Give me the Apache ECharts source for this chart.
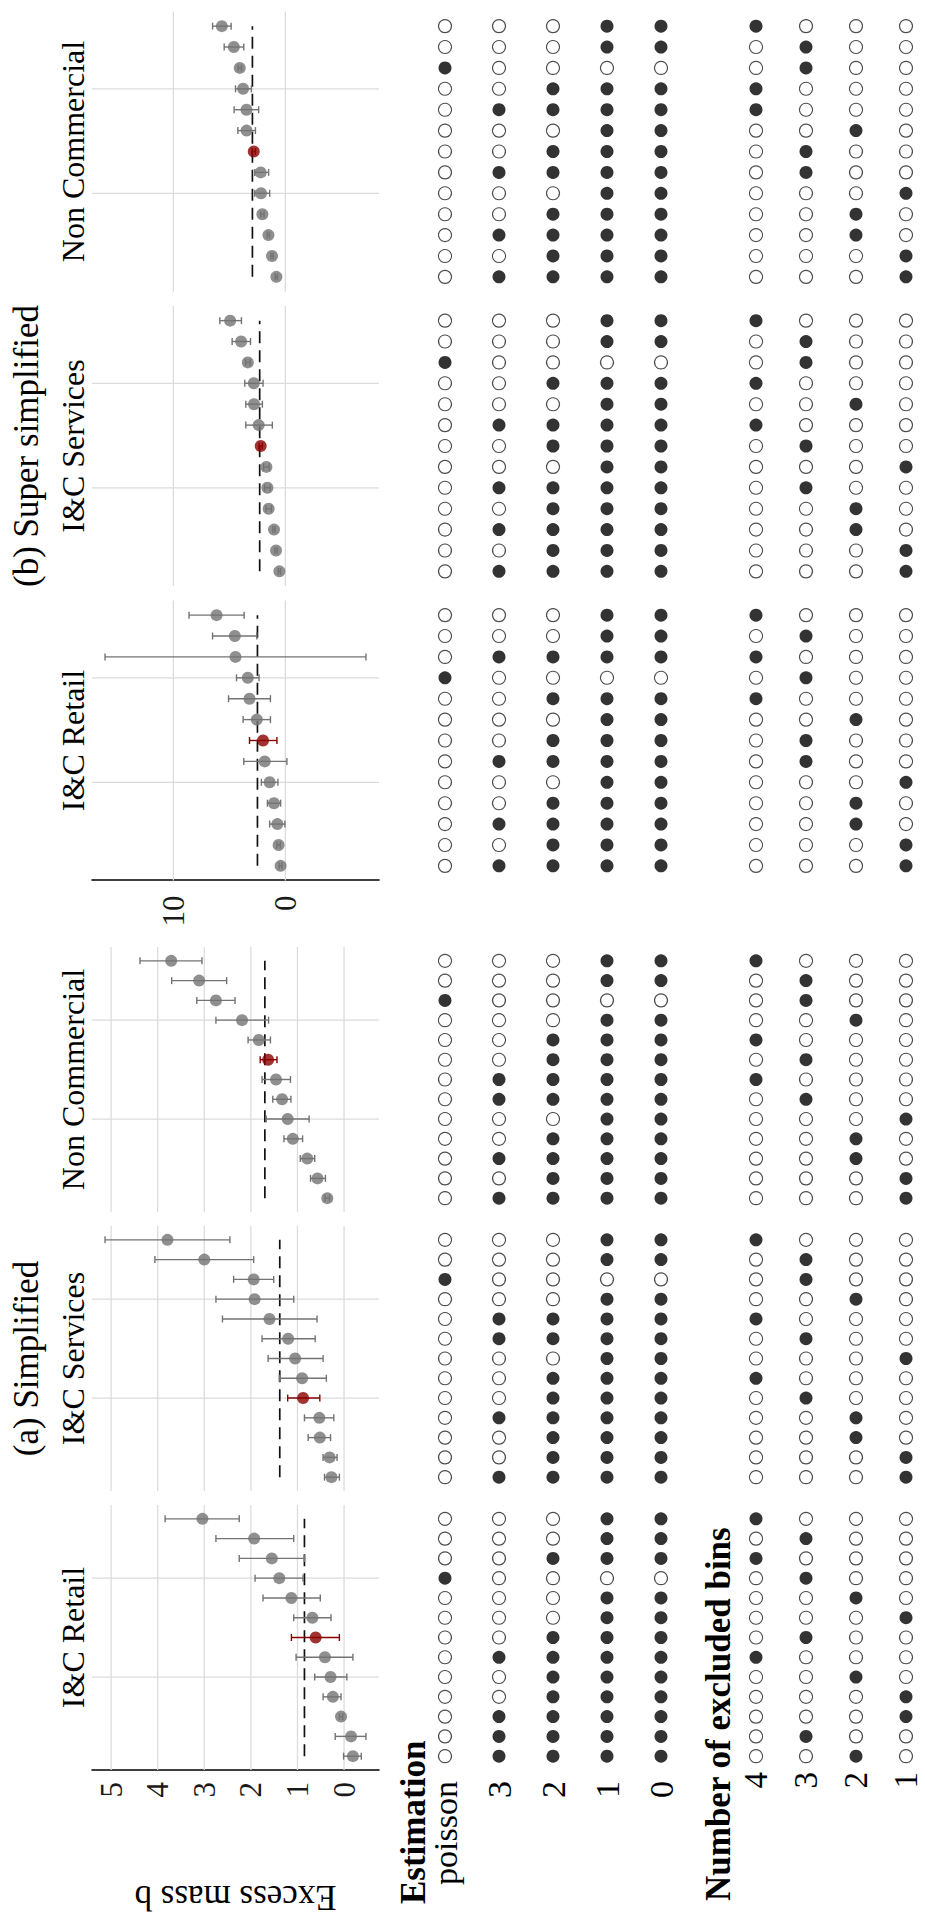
<!DOCTYPE html>
<html>
<head>
<meta charset="utf-8">
<script src="https://cdn.jsdelivr.net/npm/echarts@6/dist/echarts.min.js"></script>
<style>
  html, body { margin: 0; padding: 0; background: #fff; overflow: hidden; width: 925px; height: 1919px; }
  /* the figure is laid out in landscape and turned a quarter to fit the page */
  #chart { position: absolute; left: 0; top: 0; width: 1919px; height: 950px;
           transform-origin: 0 0; transform: translateY(1919px) rotate(-90deg); }
</style>
</head>
<body>
<div id="chart"></div>
<script>
// ---------- data ----------
const GROUP_TITLES = ['(a) Simplified', '(b) Super simplified'];
const SECTORS = ['I&C Retail', 'I&C Services', 'Non Commercial'];
const SPEC_RANK = [1, 2, 3, 4, 5, 6, 7, 8, 9, 10, 11, 12, 13];
const EST_ROWS = ['poisson', '3', '2', '1', '0'];
const BIN_ROWS = ['4', '3', '2', '1'];
const TICKS_SIMPLIFIED = [0, 1, 2, 3, 4, 5];
const TICKS_SUPER = [0, 10];
const GRID_RANKS = [5, 10];

// (a) Simplified — I&C Retail
const simpRetail     = [-0.19, -0.15, 0.065, 0.24, 0.29, 0.41, 0.61, 0.68, 1.13, 1.39, 1.55, 1.93, 3.04];
const simpRetailLo   = [-0.37, -0.47, 0.03, 0.065, -0.06, -0.19, 0.10, 0.28, 0.51, 0.88, 0.85, 1.08, 2.25];
const simpRetailHi   = [0.01, 0.19, 0.10, 0.45, 0.63, 1.03, 1.13, 1.08, 1.74, 1.91, 2.25, 2.75, 3.84];
const simpRetailEst  = ['3', '3', '3', '2', '2', '3', '2', '1', '1', 'poisson', '2', '1', '1'];
const simpRetailBins = [2, 3, 1, 1, 2, 4, 3, 1, 2, 3, 4, 3, 4];
// (a) Simplified — I&C Services
const simpServ     = [0.27, 0.31, 0.52, 0.53, 0.88, 0.90, 1.05, 1.20, 1.60, 1.92, 1.94, 3.00, 3.79];
const simpServLo   = [0.10, 0.15, 0.29, 0.22, 0.52, 0.38, 0.45, 0.62, 0.58, 1.08, 1.51, 1.94, 2.45];
const simpServHi   = [0.42, 0.45, 0.77, 0.85, 1.21, 1.39, 1.63, 1.76, 2.61, 2.75, 2.37, 4.06, 5.13];
const simpServEst  = ['3', '2', '2', '3', '2', '2', '1', '3', '3', '1', 'poisson', '1', '1'];
const simpServBins = [1, 1, 2, 2, 3, 4, 1, 3, 4, 2, 3, 3, 4];
// (a) Simplified — Non Commercial
const simpNonCom     = [0.36, 0.57, 0.79, 1.10, 1.21, 1.33, 1.46, 1.63, 1.83, 2.19, 2.75, 3.11, 3.71];
const simpNonComLo   = [0.31, 0.40, 0.63, 0.89, 0.75, 1.14, 1.15, 1.44, 1.58, 1.62, 2.34, 2.52, 3.05];
const simpNonComHi   = [0.41, 0.72, 0.94, 1.29, 1.67, 1.53, 1.76, 1.80, 2.06, 2.75, 3.16, 3.70, 4.38];
const simpNonComEst  = ['3', '2', '3', '2', '1', '3', '3', '2', '2', '1', 'poisson', '1', '1'];
const simpNonComBins = [1, 1, 2, 2, 1, 3, 4, 3, 4, 2, 3, 3, 4];
const simpMean = [0.85, 1.38, 1.70];

// (b) Super simplified — I&C Retail
const supRetail     = [0.42, 0.60, 0.71, 1.01, 1.40, 1.84, 1.99, 2.55, 3.20, 3.35, 4.45, 4.51, 6.14];
const supRetailLo   = [0.30, 0.45, 0.04, 0.42, 0.66, -0.14, 0.75, 1.33, 1.33, 2.35, -7.20, 2.55, 3.68];
const supRetailHi   = [0.54, 0.75, 1.40, 1.60, 2.14, 3.71, 3.20, 3.77, 5.07, 4.36, 16.10, 6.50, 8.60];
const supRetailEst  = ['3', '2', '3', '2', '1', '3', '2', '1', '2', 'poisson', '3', '1', '1'];
const supRetailBins = [1, 1, 2, 2, 1, 3, 3, 2, 4, 3, 4, 3, 4];
// (b) Super simplified — I&C Services
const supServ     = [0.53, 0.83, 1.01, 1.49, 1.60, 1.69, 2.20, 2.38, 2.80, 2.82, 3.35, 3.95, 4.93];
const supServLo   = [0.43, 0.73, 0.91, 1.25, 1.35, 1.44, 2.05, 1.16, 2.05, 1.99, 3.15, 3.11, 3.92];
const supServHi   = [0.63, 0.93, 1.11, 1.73, 1.85, 1.94, 2.35, 3.53, 3.53, 3.62, 3.55, 4.75, 5.85];
const supServEst  = ['3', '2', '3', '2', '3', '1', '2', '3', '1', '2', 'poisson', '1', '1'];
const supServBins = [1, 1, 2, 2, 3, 1, 3, 4, 2, 4, 3, 3, 4];
// (b) Super simplified — Non Commercial
const supNonCom     = [0.80, 1.19, 1.51, 2.05, 2.17, 2.20, 2.82, 3.46, 3.47, 3.77, 4.07, 4.60, 5.67];
const supNonComLo   = [0.70, 1.09, 1.41, 1.90, 1.40, 1.49, 2.67, 2.67, 2.38, 3.03, 3.92, 3.71, 4.84];
const supNonComHi   = [0.90, 1.29, 1.61, 2.20, 2.73, 2.73, 2.97, 4.24, 4.57, 4.45, 4.22, 5.46, 6.50];
const supNonComEst  = ['3', '2', '3', '2', '1', '3', '2', '1', '3', '2', 'poisson', '1', '1'];
const supNonComBins = [1, 1, 2, 2, 1, 3, 3, 2, 4, 4, 3, 3, 4];
const supMean = [2.49, 2.29, 2.94];

// ---------- assembly ----------
const FONT = "'Liberation Serif', 'DejaVu Serif', serif";
const GREY = '#737373';
const RED = '#8b0000';

const panels = [
  { group: 0, sector: 0, value: simpRetail, lo: simpRetailLo, hi: simpRetailHi, est: simpRetailEst, bins: simpRetailBins, mean: simpMean[0] },
  { group: 0, sector: 1, value: simpServ,   lo: simpServLo,   hi: simpServHi,   est: simpServEst,   bins: simpServBins,   mean: simpMean[1] },
  { group: 0, sector: 2, value: simpNonCom, lo: simpNonComLo, hi: simpNonComHi, est: simpNonComEst, bins: simpNonComBins, mean: simpMean[2] },
  { group: 1, sector: 0, value: supRetail,  lo: supRetailLo,  hi: supRetailHi,  est: supRetailEst,  bins: supRetailBins,  mean: supMean[0] },
  { group: 1, sector: 1, value: supServ,    lo: supServLo,    hi: supServHi,    est: supServEst,    bins: supServBins,    mean: supMean[1] },
  { group: 1, sector: 2, value: supNonCom,  lo: supNonComLo,  hi: supNonComHi,  est: supNonComEst,  bins: supNonComBins,  mean: supMean[2] }
];

const GROUP_LAYOUT = [
  { lefts: [149, 428, 707], width: 265, ticks: TICKS_SIMPLIFIED, labelMargin: 12 },
  { lefts: [1038.5, 1333, 1627.5], width: 280, ticks: TICKS_SUPER, labelMargin: 15 }
];
const FOREST = { top: 92, height: 287 };
const EST_BAND = { top: 418, height: 270 };
const BIN_BAND = { top: 731, height: 200 };
const X_RANGE = [0.3, 13.7];

// shared value range per group, padded by 5% like the facet scale
const yRange = [0, 1].map(gIdx => {
  const ps = panels.filter(p => p.group === gIdx);
  const lo = Math.min(...ps.map(p => Math.min(...p.lo)));
  const hi = Math.max(...ps.map(p => Math.max(...p.hi)));
  const pad = (hi - lo) * 0.05;
  return [lo - pad, hi + pad];
});

// a polynomial of degree d fills rows d..0; poisson fills only its own row
function estFilled(est, row) {
  if (est === 'poisson' || row === 'poisson') return est === row;
  return Number(row) <= Number(est);
}

const OPEN_DOT = { color: '#fff', borderColor: '#222', borderWidth: 1.1 };
const FULL_DOT = { color: '#000', borderWidth: 0 };

const grid = [], xAxis = [], yAxis = [], series = [], graphic = [];

panels.forEach((p, k) => {
  const g = GROUP_LAYOUT[p.group];
  const left = g.lefts[p.sector];
  const width = g.width;
  const gi = grid.length;
  const preferred = SPEC_RANK.find((r, i) => p.est[i] === '2' && p.bins[i] === 3);

  grid.push({ left, top: FOREST.top, width, height: FOREST.height },
            { left, top: EST_BAND.top, width, height: EST_BAND.height },
            { left, top: BIN_BAND.top, width, height: BIN_BAND.height });
  for (let j = 0; j < 3; j++) {
    xAxis.push({ type: 'value', gridIndex: gi + j, min: X_RANGE[0], max: X_RANGE[1], show: false });
  }
  yAxis.push({
    type: 'value', gridIndex: gi, min: yRange[p.group][0], max: yRange[p.group][1],
    show: p.sector === 0,
    axisLine: { show: true, onZero: false, lineStyle: { color: '#000', width: 1.6 } },
    axisTick: { show: false }, splitLine: { show: false },
    axisLabel: { customValues: g.ticks, margin: g.labelMargin, fontSize: 31, fontFamily: FONT, color: '#1a1a1a' }
  });
  yAxis.push({
    type: 'category', gridIndex: gi + 1, data: EST_ROWS, inverse: true, show: k === 0,
    axisLine: { show: false }, axisTick: { show: false }, splitLine: { show: false },
    axisLabel: { margin: 11, fontSize: 34, fontFamily: FONT, color: '#000' }
  });
  yAxis.push({
    type: 'category', gridIndex: gi + 2, data: BIN_ROWS, inverse: true, show: k === 0,
    axisLine: { show: false }, axisTick: { show: false }, splitLine: { show: false },
    axisLabel: { margin: 2, fontSize: 33, fontFamily: FONT, color: '#000' }
  });

  // panel gridlines
  series.push({
    type: 'custom', xAxisIndex: gi, yAxisIndex: gi, silent: true, z: 1,
    data: g.ticks.map(t => [0, t]).concat(GRID_RANKS.map(r => [1, r])),
    renderItem(params, api) {
      const cs = params.coordSys;
      const kind = api.value(0), v = api.value(1);
      let shape;
      if (kind === 0) {
        const y = api.coord([X_RANGE[0], v])[1];
        shape = { x1: cs.x, y1: y, x2: cs.x + cs.width, y2: y };
      } else {
        const x = api.coord([v, 0])[0];
        shape = { x1: x, y1: cs.y, x2: x, y2: cs.y + cs.height };
      }
      return { type: 'line', shape, style: { stroke: '#dcdcdc', lineWidth: 1.3 } };
    }
  });

  // average across specifications
  series.push({
    type: 'line', xAxisIndex: gi, yAxisIndex: gi, silent: true, z: 2,
    data: [[SPEC_RANK[0], p.mean], [SPEC_RANK[SPEC_RANK.length - 1], p.mean]],
    symbol: 'none', lineStyle: { color: '#111', width: 1.7, type: [12, 7] }
  });

  // confidence intervals
  series.push({
    type: 'custom', xAxisIndex: gi, yAxisIndex: gi, silent: true, z: 3,
    encode: { x: 0, y: [1, 2] },
    data: SPEC_RANK.map((r, i) => [r, p.lo[i], p.hi[i], r === preferred ? 1 : 0]),
    renderItem(params, api) {
      const x = api.value(0);
      const a = api.coord([x, api.value(1)]);
      const b = api.coord([x, api.value(2)]);
      const style = { stroke: api.value(3) ? RED : GREY, lineWidth: 1.4, fill: null };
      const cap = 3.5;
      return {
        type: 'group', children: [
          { type: 'line', shape: { x1: a[0], y1: a[1], x2: b[0], y2: b[1] }, style },
          { type: 'line', shape: { x1: a[0] - cap, y1: a[1], x2: a[0] + cap, y2: a[1] }, style },
          { type: 'line', shape: { x1: b[0] - cap, y1: b[1], x2: b[0] + cap, y2: b[1] }, style }
        ]
      };
    }
  });

  // point estimates
  series.push({
    type: 'scatter', xAxisIndex: gi, yAxisIndex: gi, silent: true, z: 4,
    symbolSize: 12,
    data: SPEC_RANK.map((r, i) => ({ value: [r, p.value[i]], itemStyle: { color: r === preferred ? RED : GREY } }))
  });

  // specification indicators
  const estDots = [];
  SPEC_RANK.forEach((r, i) => EST_ROWS.forEach(row => {
    estDots.push({ value: [r, row], itemStyle: estFilled(p.est[i], row) ? FULL_DOT : OPEN_DOT });
  }));
  series.push({ type: 'scatter', xAxisIndex: gi + 1, yAxisIndex: gi + 1, silent: true, symbolSize: 13, data: estDots });

  const binDots = [];
  SPEC_RANK.forEach((r, i) => BIN_ROWS.forEach(row => {
    binDots.push({ value: [r, row], itemStyle: String(p.bins[i]) === row ? FULL_DOT : OPEN_DOT });
  }));
  series.push({ type: 'scatter', xAxisIndex: gi + 2, yAxisIndex: gi + 2, silent: true, symbolSize: 13, data: binDots });

  // facet strip label
  graphic.push({
    type: 'text', x: left + width / 2, y: 73, silent: true,
    style: { text: SECTORS[p.sector], fontSize: 32, fontFamily: FONT, fill: '#000', textAlign: 'center', textVerticalAlign: 'middle' }
  });
});

// group titles
GROUP_LAYOUT.forEach((g, gIdx) => {
  const x0 = g.lefts[0], x1 = g.lefts[g.lefts.length - 1] + g.width;
  graphic.push({
    type: 'text', x: (x0 + x1) / 2, y: 26, silent: true,
    style: { text: GROUP_TITLES[gIdx], fontSize: 35, fontFamily: FONT, fill: '#000', textAlign: 'center', textVerticalAlign: 'middle' }
  });
});

// value axis title, turned like a y-axis title
graphic.push({
  type: 'text', x: 21.5, y: FOREST.top + FOREST.height / 2, rotation: Math.PI / 2, silent: true,
  style: { text: 'Excess mass b', fontSize: 35, fontFamily: FONT, fill: '#000', textAlign: 'center', textVerticalAlign: 'middle' }
});
// indicator block headings
graphic.push({
  type: 'text', x: 15, y: 413, silent: true,
  style: { text: 'Estimation', fontSize: 35, fontWeight: 'bold', fontFamily: FONT, fill: '#000', textAlign: 'left', textVerticalAlign: 'middle' }
});
graphic.push({
  type: 'text', x: 18, y: 718, silent: true,
  style: { text: 'Number of excluded bins', fontSize: 35, fontWeight: 'bold', fontFamily: FONT, fill: '#000', textAlign: 'left', textVerticalAlign: 'middle' }
});

const chart = echarts.init(document.getElementById('chart'), null, { renderer: 'svg' });
chart.setOption({
  animation: false,
  backgroundColor: '#fff',
  grid, xAxis, yAxis, series, graphic
});
</script>
</body>
</html>
